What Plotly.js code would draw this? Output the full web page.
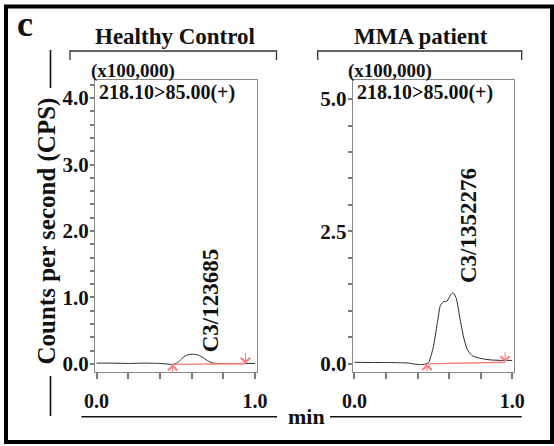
<!DOCTYPE html>
<html>
<head>
<meta charset="utf-8">
<script src="https://cdn.plot.ly/plotly-3.0.1.min.js"></script>
<style>
  html, body { margin: 0; padding: 0; background: #fff; }
  #chart { width: 554px; height: 446px; }
</style>
</head>
<body>
<div id="chart"></div>
<script>
// Panel titles
const panelTitles = ['Healthy Control', 'MMA patient'];
const scaleNote = '(x100,000)';
const transition = '218.10>85.00(+)';

// Healthy control chromatogram (time in min, signal in x100,000 CPS)
const hcTime   = [0.00, 0.10, 0.20, 0.30, 0.40, 0.45, 0.48, 0.494, 0.515, 0.536, 0.557, 0.584, 0.610, 0.642, 0.674, 0.706, 0.737, 0.78, 0.84, 0.90, 0.95, 1.00];
const hcSignal = [0.01, 0.01, 0.005, 0.01, 0.005, -0.005, -0.01, 0.0, 0.025, 0.075, 0.115, 0.14, 0.145, 0.13, 0.09, 0.04, 0.01, 0.005, 0.005, 0.005, 0.005, 0.005];

// MMA patient chromatogram
const mmaTime   = [0.00, 0.10, 0.20, 0.30, 0.34, 0.38, 0.42, 0.45, 0.47, 0.50, 0.525, 0.545, 0.565, 0.587, 0.608, 0.625, 0.646, 0.667, 0.692, 0.713, 0.745, 0.797, 0.86, 0.924, 1.00];
const mmaSignal = [0.025, 0.02, 0.02, 0.015, 0.01, -0.01, -0.02, -0.01, 0.02, 0.31, 0.76, 1.10, 1.17, 1.18, 1.29, 1.34, 1.23, 0.88, 0.50, 0.28, 0.15, 0.10, 0.07, 0.06, 0.06];

// Integration baselines (start / end of each peak)
const hcBaseTime    = [0.48, 0.94];
const hcBaseSignal  = [-0.008, 0.0];
const mmaBaseTime   = [0.46, 0.955];
const mmaBaseSignal = [-0.006, 0.025];

// Peak labels: compound / area
const hcPeakLabel  = 'C3/123685';
const mmaPeakLabel = 'C3/1352276';
const hcLabelPos  = [0.716, 0.956];
const mmaLabelPos = [0.72, 2.6];

// Axis tick positions and labels
const xTickVals = [0, 0.2, 0.4, 0.6, 0.8, 1.0];
const xTickText = ['0.0', '', '', '', '', '1.0'];
const hcYTickVals = [0, 0.2, 0.4, 0.6, 0.8, 1.0, 1.2, 1.4, 1.6, 1.8, 2.0, 2.2, 2.4, 2.6, 2.8, 3.0, 3.2, 3.4, 3.6, 3.8, 4.0, 4.2];
const hcYTickText = ['0.0', '', '', '', '', '1.0', '', '', '', '', '2.0', '', '', '', '', '3.0', '', '', '', '', '4.0', ''];
const mmaYTickVals = [0, 0.5, 1.0, 1.5, 2.0, 2.5, 3.0, 3.5, 4.0, 4.5, 5.0];
const mmaYTickText = ['0.0', '', '', '', '', '2.5', '', '', '', '', '5.0'];

const W = 554, H = 446;
const px = v => v / W;
const py = v => 1 - v / H;

const SERIF = 'Liberation Serif, Times New Roman, serif';
const INK = '#111';
const FRAME = '#8a8a8a';
const TICK = '#7a7a7a';
const PINK = '#ff7b7b';

const boldFont = (size) => ({ family: SERIF, size: size, color: INK, weight: 'bold' });

const traces = [
  { x: hcTime, y: hcSignal, xaxis: 'x', yaxis: 'y', mode: 'lines',
    line: { color: '#2a2a2a', width: 1, shape: 'spline', smoothing: 0.6 }, hoverinfo: 'skip' },
  { x: hcBaseTime, y: hcBaseSignal, xaxis: 'x', yaxis: 'y', mode: 'lines',
    line: { color: PINK, width: 1.4 }, hoverinfo: 'skip' },
  { x: mmaTime, y: mmaSignal, xaxis: 'x2', yaxis: 'y2', mode: 'lines',
    line: { color: '#2a2a2a', width: 1, shape: 'spline', smoothing: 0.6 }, hoverinfo: 'skip' },
  { x: mmaBaseTime, y: mmaBaseSignal, xaxis: 'x2', yaxis: 'y2', mode: 'lines',
    line: { color: PINK, width: 1.4 }, hoverinfo: 'skip' }
];

const yDomain = [py(371.5), py(79.5)];

// The time range is padded a touch so that the end ticks at 0.0 and 1.0 are kept.
function xAxis(domain, anchor) {
  return {
    domain: domain, anchor: anchor, range: [-0.01, 1.01],
    showline: true, mirror: true, linecolor: FRAME, linewidth: 1,
    showgrid: false, zeroline: false,
    tickmode: 'array', tickvals: xTickVals, ticktext: xTickText,
    ticks: 'outside', ticklen: 6, tickcolor: TICK, tickwidth: 1.5,
    ticklabelstandoff: 5,
    tickfont: boldFont(20)
  };
}

function yAxis(range, vals, text, anchor) {
  return {
    domain: yDomain, anchor: anchor, range: range,
    showline: true, mirror: true, linecolor: FRAME, linewidth: 1,
    showgrid: false, zeroline: false,
    tickmode: 'array', tickvals: vals, ticktext: text,
    ticks: 'outside', ticklen: 4, tickcolor: TICK, tickwidth: 1.5,
    ticklabelstandoff: -3,
    tickfont: boldFont(21)
  };
}

const arrowStyle = { showarrow: true, arrowhead: 4, arrowsize: 1.8, arrowwidth: 1, arrowcolor: PINK, standoff: 0, text: '' };

const annotations = [
  // panel letter
  { xref: 'paper', yref: 'paper', x: px(25), y: py(24), text: 'c', showarrow: false,
    xanchor: 'center', yanchor: 'middle', font: boldFont(36) },
  // panel titles
  { xref: 'paper', yref: 'paper', x: px(175), y: py(36), text: panelTitles[0], showarrow: false,
    xanchor: 'center', yanchor: 'middle', font: boldFont(23) },
  { xref: 'paper', yref: 'paper', x: px(421), y: py(36), text: panelTitles[1], showarrow: false,
    xanchor: 'center', yanchor: 'middle', font: boldFont(23) },
  // scale notes
  { xref: 'paper', yref: 'paper', x: px(89), y: py(71), text: scaleNote, showarrow: false,
    xanchor: 'left', yanchor: 'middle', font: boldFont(19) },
  { xref: 'paper', yref: 'paper', x: px(346), y: py(71), text: scaleNote, showarrow: false,
    xanchor: 'left', yanchor: 'middle', font: boldFont(19) },
  // MRM transitions
  { xref: 'paper', yref: 'paper', x: px(97), y: py(92), text: transition, showarrow: false,
    xanchor: 'left', yanchor: 'middle', font: boldFont(20) },
  { xref: 'paper', yref: 'paper', x: px(355), y: py(92), text: transition, showarrow: false,
    xanchor: 'left', yanchor: 'middle', font: boldFont(20) },
  // shared axis titles
  { xref: 'paper', yref: 'paper', x: px(46.5), y: py(231), text: 'Counts per second (CPS)', showarrow: false,
    textangle: -90, xanchor: 'center', yanchor: 'middle', font: boldFont(25) },
  { xref: 'paper', yref: 'paper', x: px(306), y: py(416), text: 'min', showarrow: false,
    xanchor: 'center', yanchor: 'middle', font: boldFont(22) },
  // peak labels
  { xref: 'x', yref: 'y', x: hcLabelPos[0], y: hcLabelPos[1], text: hcPeakLabel, showarrow: false,
    textangle: -90, xanchor: 'center', yanchor: 'middle', font: boldFont(23) },
  { xref: 'x2', yref: 'y2', x: mmaLabelPos[0], y: mmaLabelPos[1], text: mmaPeakLabel, showarrow: false,
    textangle: -90, xanchor: 'center', yanchor: 'middle', font: boldFont(23) },
  // integration start / end markers
  Object.assign({ xref: 'x', yref: 'y', x: hcBaseTime[0], y: hcBaseSignal[0], ax: 0, ay: 9 }, arrowStyle),
  Object.assign({ xref: 'x', yref: 'y', x: hcBaseTime[1], y: hcBaseSignal[1], ax: 0, ay: -12 }, arrowStyle),
  Object.assign({ xref: 'x2', yref: 'y2', x: mmaBaseTime[0], y: mmaBaseSignal[0], ax: 0, ay: 9 }, arrowStyle),
  Object.assign({ xref: 'x2', yref: 'y2', x: mmaBaseTime[1], y: mmaBaseSignal[1], ax: 0, ay: -12 }, arrowStyle)
];

const paperLine = (x0, y0, x1, y1, color, width) => ({
  type: 'line', xref: 'paper', yref: 'paper',
  x0: px(x0), y0: py(y0), x1: px(x1), y1: py(y1),
  line: { color: color, width: width }
});

const bracket = (x0, x1, yTop, yEnd) => ({
  type: 'path', xref: 'paper', yref: 'paper',
  path: 'M' + px(x0) + ',' + py(yEnd) + ' L' + px(x0) + ',' + py(yTop) +
        ' L' + px(x1) + ',' + py(yTop) + ' L' + px(x1) + ',' + py(yEnd),
  line: { color: '#333', width: 1.3 }
});

const shapes = [
  // outer frame
  { type: 'rect', xref: 'paper', yref: 'paper', x0: px(6), y0: py(442), x1: px(552), y1: py(6.5),
    line: { color: '#000', width: 4 }, fillcolor: 'rgba(0,0,0,0)', layer: 'below' },
  // title brackets
  bracket(70, 276.5, 51, 60),
  bracket(317.7, 521.7, 51, 60),
  // y title rules
  paperLine(50.5, 50, 50.5, 88, '#111', 1.6),
  paperLine(50.5, 376, 50.5, 416, '#111', 1.6),
  // x title rules
  paperLine(81.5, 416.7, 277, 416.7, '#111', 1.6),
  paperLine(330, 416.7, 521.7, 416.7, '#111', 1.6)
];

const layout = {
  width: W, height: H,
  margin: { l: 0, r: 0, t: 0, b: 0 },
  paper_bgcolor: '#fff', plot_bgcolor: '#fff',
  showlegend: false,
  xaxis:  xAxis([px(95), px(256.6)], 'y'),
  yaxis:  yAxis([-0.116, 4.28], hcYTickVals, hcYTickText, 'x'),
  xaxis2: xAxis([px(352.8), px(513.8)], 'y2'),
  yaxis2: yAxis([-0.15, 5.37], mmaYTickVals, mmaYTickText, 'x2'),
  annotations: annotations,
  shapes: shapes
};

Plotly.newPlot('chart', traces, layout, { displayModeBar: false });
</script>
</body>
</html>
